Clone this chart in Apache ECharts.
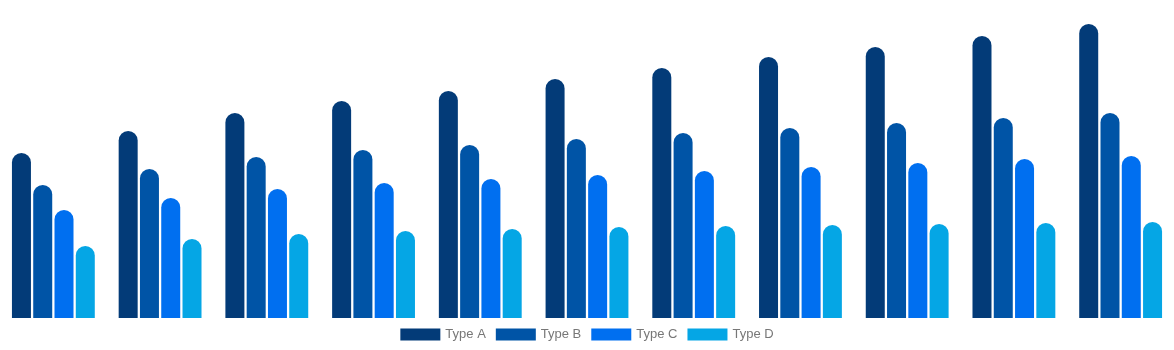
<!DOCTYPE html>
<html>
<head>
<meta charset="utf-8">
<script src="https://cdn.jsdelivr.net/npm/echarts@6/dist/echarts.min.js"></script>
<style>
  html, body { margin: 0; padding: 0; background: #fff; }
  #chart { width: 1174px; height: 350px; }
</style>
</head>
<body>
<div id="chart"></div>
<script>
// Eleven groups of four series
const categories = ['1', '2', '3', '4', '5', '6', '7', '8', '9', '10', '11'];
const seriesNames = ['Type A', 'Type B', 'Type C', 'Type D'];
const typeA = [165, 187, 205, 217, 227, 239, 250, 261, 271, 282, 294];
const typeB = [133, 149, 161, 168, 173, 179, 185, 190, 195, 200, 205];
const typeC = [108, 120, 129, 135, 139, 143, 147, 151, 155, 159, 162];
const typeD = [72, 79, 84, 87, 89, 91, 92, 93, 94, 95, 96];
const colors = ['#033b78', '#0054a6', '#006ff0', '#05a6e5'];

const values = [typeA, typeB, typeC, typeD];

const chart = echarts.init(document.getElementById('chart'));
chart.setOption({
  animation: false,
  color: colors,
  grid: { left: 0, right: 0, top: 18, bottom: 32 },
  legend: {
    bottom: 4,
    left: 'center',
    itemWidth: 40,
    itemHeight: 12,
    itemGap: 10,
    icon: 'rect',
    textStyle: { color: '#777', fontSize: 13, fontFamily: '"Liberation Sans", Arial, sans-serif' },
    data: seriesNames
  },
  xAxis: {
    type: 'category',
    data: categories,
    show: false
  },
  yAxis: {
    type: 'value',
    min: 0,
    max: 300,
    show: false
  },
  series: seriesNames.map((name, i) => ({
    name: name,
    type: 'bar',
    data: values[i],
    barWidth: 19,
    barGap: '12%',
    itemStyle: {
      borderRadius: [10, 10, 0, 0]
    }
  }))
});
</script>
</body>
</html>
